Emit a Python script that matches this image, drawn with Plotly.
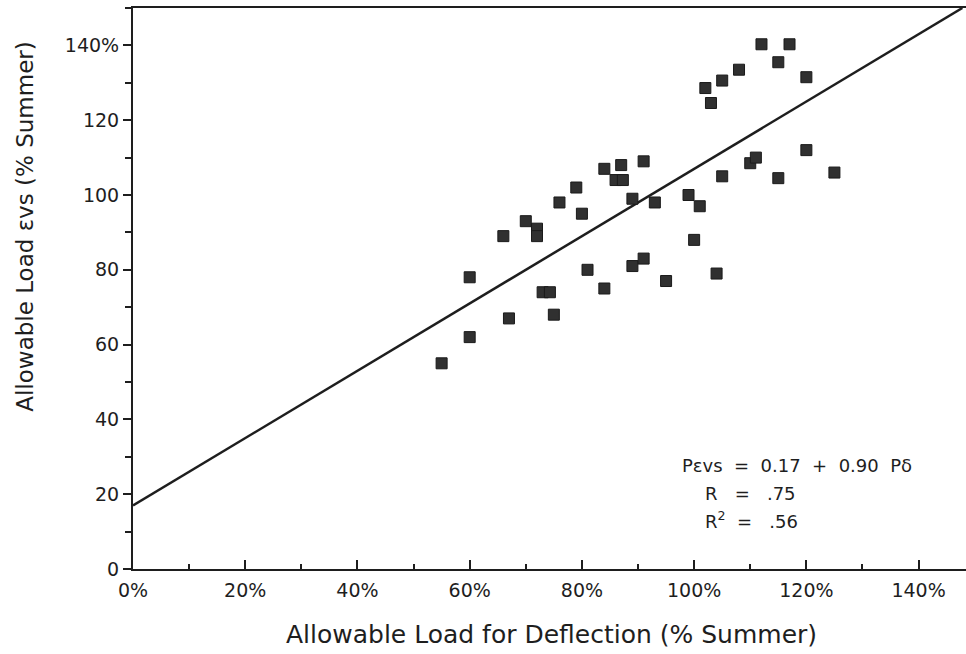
import plotly.graph_objects as go

# Data (percent of summer allowable load)
deflection_pct = [55, 60, 60, 67, 66, 70, 72, 72, 73, 74.3, 75, 76, 79, 80, 81, 84, 84, 87, 86, 87.3,
                  91, 89, 93, 89, 91, 95, 99, 101, 100, 104, 105, 110, 111, 115, 120, 125,
                  102, 103, 105, 108, 112, 117, 115, 120]
evs_pct = [55, 62, 78, 67, 89, 93, 91, 89, 74, 74, 68, 98, 102, 95, 80, 75, 107, 108, 104, 104,
           109, 99, 98, 81, 83, 77, 100, 97, 88, 79, 105, 108.5, 110, 104.5, 112, 106,
           128.6, 124.6, 130.6, 133.5, 140.3, 140.3, 135.5, 131.5]

# Regression line endpoints: P_evs = 0.17 + 0.90 P_d (in % units)
fit_x = [0, 147.8]
fit_y = [17, 150]

x_tick_vals = [0, 20, 40, 60, 80, 100, 120, 140]
x_tick_text = ["0%", "20%", "40%", "60%", "80%", "100%", "120%", "140%"]
y_tick_vals = [0, 20, 40, 60, 80, 100, 120, 140]
y_tick_text = ["0", "20", "40", "60", "80", "100", "120", "140%"]

annot_lines = ["P\u03b5vs  =  0.17  +  0.90  P\u03b4", "R   =   .75", "R<sup>2</sup>  =   .56"]
x_title = "Allowable Load for Deflection (% Summer)"
y_title = "Allowable Load \u03b5vs (% Summer)"

FONT = "DejaVu Sans"
INK = "#1e1e1e"

fig = go.Figure()
fig.add_trace(go.Scatter(x=fit_x, y=fit_y, mode="lines",
                         line=dict(color=INK, width=2.5), showlegend=False, hoverinfo="skip"))
fig.add_trace(go.Scatter(x=deflection_pct, y=evs_pct, mode="markers",
                         marker=dict(symbol="square", size=11, color="#303030",
                                     line=dict(color="#1a1a1a", width=1)),
                         showlegend=False))

fig.update_layout(
    width=966, height=654,
    margin=dict(l=133, r=0, t=8, b=85),
    paper_bgcolor="white", plot_bgcolor="white",
    font=dict(family=FONT, color=INK),
    xaxis=dict(range=[0, 148.45], showgrid=False, zeroline=False,
               showline=True, linecolor=INK, linewidth=2, mirror=True,
               ticks="inside", ticklen=9, tickwidth=1.5, tickcolor=INK,
               tickvals=x_tick_vals, ticktext=x_tick_text,
               tickfont=dict(size=19, family=FONT), ticklabelstandoff=3,
               minor=dict(ticks="inside", ticklen=5, dtick=10, tickwidth=1.5, tickcolor=INK)),
    yaxis=dict(range=[0, 150], showgrid=False, zeroline=False,
               showline=True, linecolor=INK, linewidth=2,
               ticks="outside", ticklen=8, tickwidth=1.5, tickcolor=INK,
               tickvals=y_tick_vals, ticktext=y_tick_text,
               tickfont=dict(size=19, family=FONT),
               minor=dict(ticks="outside", ticklen=6, dtick=10, tickwidth=1.5, tickcolor=INK)),
)

fig.add_annotation(x=0.503, y=-0.1176, xref="paper", yref="paper",
                   xanchor="center", yanchor="middle", text=x_title, showarrow=False,
                   font=dict(size=25, family=FONT, color=INK))
fig.add_annotation(x=-0.1297, y=0.61, xref="paper", yref="paper", textangle=-90,
                   xanchor="center", yanchor="middle", text=y_title, showarrow=False,
                   font=dict(size=23, family=FONT, color=INK))

for i, t in enumerate(annot_lines):
    fig.add_annotation(x=0.657 if i == 0 else 0.684, y=[0.185, 0.135, 0.087][i],
                       xref="paper", yref="paper", xanchor="left", yanchor="middle",
                       text=t, showarrow=False, font=dict(size=18, family=FONT, color=INK))

fig.write_html("out.html")
